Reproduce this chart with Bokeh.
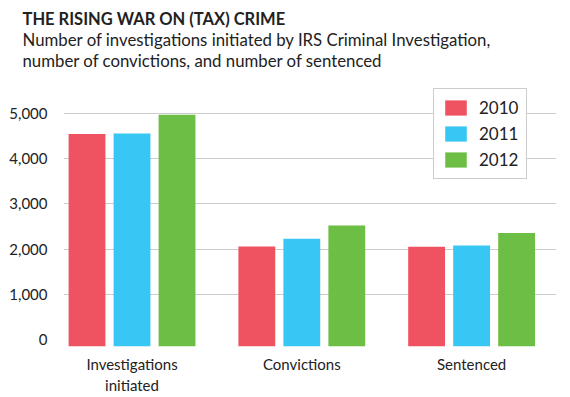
from bokeh.plotting import figure
from bokeh.models import (Range1d, FixedTicker, Legend, LegendItem, Title,
                          ColumnDataSource, NumeralTickFormatter)
from bokeh.transform import dodge
from bokeh.embed import file_html
from bokeh.resources import INLINE

# ---- data ----
categories = ["Investigations\ninitiated", "Convictions", "Sentenced"]
years = ["2010", "2011", "2012"]
values_2010 = [4536, 2060, 2051]
values_2011 = [4550, 2227, 2082]
values_2012 = [4962, 2522, 2353]
y_ticks = [0, 1000, 2000, 3000, 4000, 5000]

title_text = "THE RISING WAR ON (TAX) CRIME"
subtitle_text = ("Number of investigations initiated by IRS Criminal Investigation,\n"
                 "number of convictions, and number of sentenced")

colors = ["#EF5361", "#38C7F4", "#6DBE45"]
FONT = "Lato"
TXT = "#222222"

positions = [i + 0.5 for i in range(len(categories))]
source = ColumnDataSource(dict(x=positions, y2010=values_2010,
                               y2011=values_2011, y2012=values_2012))

y_start = -147
p = figure(width=570, height=397,
           x_range=Range1d(0.0965, 3.0), y_range=Range1d(y_start, 5542),
           output_backend="svg", toolbar_location=None,
           min_border_left=63, min_border_right=14, min_border_bottom=51,
           min_border_top=10)
p.outline_line_color = None
p.background_fill_color = "white"
p.border_fill_color = "white"

offsets = [-0.265, 0.0, 0.265]
renderers = []
for yr, off, col in zip(years, offsets, colors):
    r = p.vbar(x=dodge("x", off), top="y" + yr, bottom=y_start, width=0.217,
               source=source, fill_color=col, line_color=None)
    renderers.append(r)

# axes
xa = p.xaxis[0]
xa.ticker = FixedTicker(ticks=positions)
xa.major_label_overrides = dict(zip(positions, categories))
xa.axis_line_color = None
xa.major_tick_line_color = None
xa.minor_tick_line_color = None
xa.major_label_text_font = FONT
xa.major_label_text_font_size = "15px"
xa.major_label_text_color = TXT
xa.major_label_standoff = 2

ya = p.yaxis[0]
ya.ticker = FixedTicker(ticks=y_ticks)
ya.formatter = NumeralTickFormatter(format="0,0")
ya.axis_line_color = None
ya.major_tick_line_color = None
ya.minor_tick_line_color = None
ya.major_label_text_font = FONT
ya.major_label_text_font_size = "15px"
ya.major_label_text_color = TXT
ya.major_label_standoff = 10

p.xgrid.visible = False
p.ygrid.ticker = FixedTicker(ticks=y_ticks[1:])
p.ygrid.grid_line_color = "#cccccc"
p.ygrid.grid_line_width = 1

# legend
legend = Legend(items=[LegendItem(label=y, renderers=[r]) for y, r in zip(years, renderers)],
                location=(370, 167), glyph_width=27, glyph_height=19,
                label_height=19, spacing=5, padding=8, label_standoff=10,
                border_line_color="#999999", border_line_width=1,
                label_text_font=FONT, label_text_font_size="17px",
                label_text_color=TXT, background_fill_alpha=1.0)
p.add_layout(legend)

# titles: first added sits closest to the plot frame
p.add_layout(Title(text=" ", text_font_size="1px", standoff=12), "above")  # spacer
p.add_layout(Title(text=subtitle_text, text_font=FONT, text_font_size="16.8px",
                   text_font_style="normal", text_color=TXT, text_line_height=1.03,
                   align="left", vertical_align="top", offset=-41, standoff=0), "above")
p.add_layout(Title(text=title_text, text_font=FONT, text_font_size="16.5px",
                   text_font_style="bold", text_color=TXT,
                   align="left", offset=-41, standoff=0), "above")
p.add_layout(Title(text=" ", text_font_size="1px", standoff=3), "above")  # spacer

open("out.html", "w").write(file_html(p, INLINE))
